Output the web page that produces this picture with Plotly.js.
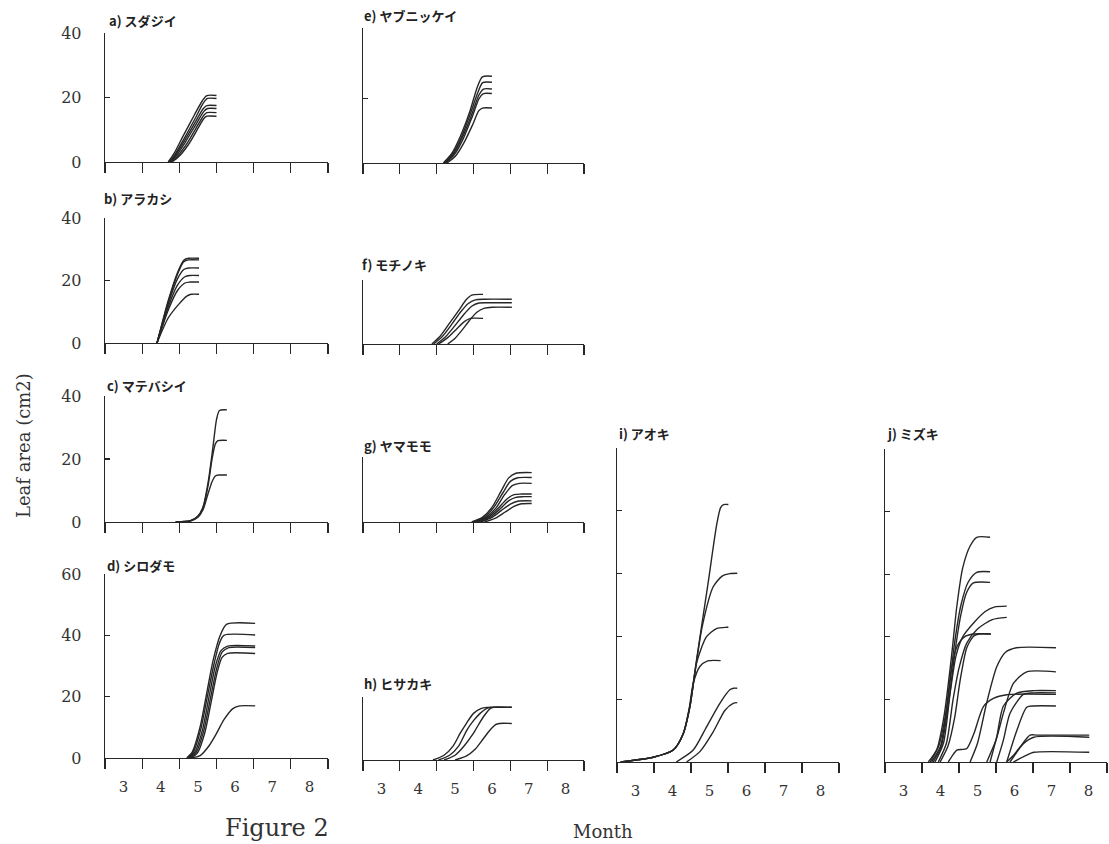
<!DOCTYPE html>
<html>
<head>
<meta charset="utf-8">
<script src="https://cdn.plot.ly/plotly-3.0.1.min.js"></script>
<style>
  html, body { margin: 0; padding: 0; background: #ffffff; }
  #chart { width: 1109px; height: 844px; }
</style>
</head>
<body>
<div id="chart"></div>
<script>
// ---------------- DATA (month, leaf area cm2) ----------------
const monthTicks = [3, 4, 5, 6, 7, 8, 9];
const monthLabelPos = [3.5, 4.5, 5.5, 6.5, 7.5, 8.5];
const monthLabels = ['3', '4', '5', '6', '7', '8'];

// a) スダジイ
const aX = [
  [4.70, 4.85, 5.10, 5.40, 5.62, 5.74, 6.00],
  [4.72, 4.88, 5.14, 5.44, 5.64, 5.76, 6.00],
  [4.74, 4.90, 5.16, 5.46, 5.64, 5.74, 6.00],
  [4.76, 4.92, 5.18, 5.48, 5.66, 5.76, 6.00],
  [4.78, 4.95, 5.22, 5.50, 5.66, 5.74, 6.00],
  [4.80, 4.98, 5.25, 5.52, 5.66, 5.74, 6.00]
];
const aY = [
  [0, 2.5, 8.0, 14.5, 19.0, 20.6, 20.6],
  [0, 2.3, 7.5, 13.8, 18.2, 19.7, 19.7],
  [0, 2.2, 7.0, 13.0, 16.5, 17.5, 17.5],
  [0, 2.0, 6.5, 12.3, 15.7, 16.6, 16.6],
  [0, 1.8, 6.0, 11.5, 14.5, 15.3, 15.3],
  [0, 1.6, 5.5, 10.8, 13.5, 14.2, 14.2]
];

// b) アラカシ
const bX = [
  [4.40, 4.70, 4.95, 5.12, 5.25, 5.53],
  [4.40, 4.70, 4.95, 5.12, 5.25, 5.53],
  [4.40, 4.70, 4.95, 5.12, 5.25, 5.53],
  [4.40, 4.70, 4.95, 5.15, 5.28, 5.53],
  [4.40, 4.70, 4.95, 5.15, 5.28, 5.53],
  [4.40, 4.70, 5.00, 5.20, 5.32, 5.53]
];
const bY = [
  [0, 13.5, 22.5, 26.5, 27.1, 27.1],
  [0, 13.0, 22.0, 26.0, 26.6, 26.6],
  [0, 12.5, 20.5, 23.5, 24.0, 24.0],
  [0, 11.5, 18.5, 21.2, 21.6, 21.6],
  [0, 10.5, 16.8, 19.2, 19.5, 19.5],
  [0, 8.0, 12.6, 15.0, 15.6, 15.6]
];

// c) マテバシイ
const cX = [
  [4.90, 5.30, 5.50, 5.64, 5.78, 5.91, 6.00, 6.08, 6.28],
  [4.90, 5.30, 5.50, 5.64, 5.78, 5.88, 5.97, 6.04, 6.28],
  [4.90, 5.30, 5.50, 5.64, 5.76, 5.88, 5.97, 6.06, 6.28]
];
const cY = [
  [0, 0.4, 1.8, 4.9, 13.0, 24.3, 32.5, 35.4, 35.6],
  [0, 0.4, 1.8, 4.6, 12.0, 20.0, 24.8, 25.8, 25.9],
  [0, 0.3, 1.5, 4.0, 8.5, 12.8, 14.6, 14.9, 14.9]
];

// d) シロダモ
const dX = [
  [5.20, 5.35, 5.56, 5.75, 5.91, 6.10, 6.27, 7.04],
  [5.22, 5.38, 5.58, 5.77, 5.93, 6.08, 6.20, 7.04],
  [5.25, 5.42, 5.62, 5.80, 5.97, 6.12, 6.30, 7.04],
  [5.28, 5.45, 5.65, 5.83, 6.00, 6.15, 6.33, 7.04],
  [5.30, 5.48, 5.68, 5.86, 6.02, 6.15, 6.30, 7.04],
  [5.30, 5.56, 5.80, 6.00, 6.20, 6.45, 6.63, 7.04]
];
const dY = [
  [0, 2.0, 10.2, 22.0, 31.9, 40.0, 43.6, 43.9],
  [0, 2.0, 9.5, 21.0, 30.5, 37.5, 40.0, 40.1],
  [0, 2.0, 9.0, 20.0, 30.0, 35.0, 36.5, 36.5],
  [0, 1.8, 8.5, 19.0, 29.0, 34.5, 36.0, 36.0],
  [0, 1.5, 8.0, 18.5, 28.0, 32.8, 34.1, 34.1],
  [0, 0.8, 4.0, 8.0, 12.5, 16.2, 17.0, 17.0]
];

// e) ヤブニッケイ
const eX = [
  [5.18, 5.40, 5.65, 5.90, 6.10, 6.24, 6.50],
  [5.20, 5.42, 5.67, 5.92, 6.12, 6.25, 6.50],
  [5.22, 5.44, 5.70, 5.95, 6.14, 6.27, 6.50],
  [5.24, 5.46, 5.72, 5.97, 6.15, 6.27, 6.50],
  [5.28, 5.50, 5.75, 5.98, 6.14, 6.24, 6.50]
];
const eY = [
  [0, 2.8, 8.5, 16.0, 23.5, 26.8, 27.0],
  [0, 2.6, 8.0, 15.5, 22.0, 25.0, 25.1],
  [0, 2.5, 8.0, 15.0, 21.0, 23.0, 23.0],
  [0, 2.3, 7.5, 14.5, 20.0, 21.6, 21.6],
  [0, 2.0, 6.5, 12.0, 16.2, 17.1, 17.1]
];

// f) モチノキ
const fX = [
  [4.87, 5.10, 5.35, 5.60, 5.80, 5.95, 6.26],
  [4.92, 5.15, 5.40, 5.65, 5.85, 6.05, 6.30, 7.04],
  [5.00, 5.22, 5.48, 5.72, 5.95, 6.15, 6.40, 7.04],
  [5.30, 5.50, 5.70, 5.90, 6.10, 6.30, 6.50, 7.04],
  [5.05, 5.30, 5.55, 5.75, 5.92, 6.26]
];
const fY = [
  [0, 2.5, 6.5, 10.5, 13.8, 15.3, 15.5],
  [0, 2.3, 6.0, 10.0, 12.6, 13.8, 14.0, 14.0],
  [0, 2.0, 5.5, 9.0, 11.8, 12.8, 12.9, 12.9],
  [0, 1.8, 4.5, 7.5, 10.0, 11.2, 11.5, 11.5],
  [0, 2.0, 4.8, 7.0, 8.0, 8.0]
];

// g) ヤマモモ
const gX = [
  [5.95, 6.25, 6.50, 6.75, 6.95, 7.15, 7.58],
  [6.00, 6.30, 6.55, 6.80, 7.00, 7.20, 7.58],
  [6.05, 6.35, 6.60, 6.85, 7.05, 7.25, 7.58],
  [6.10, 6.40, 6.65, 6.90, 7.10, 7.30, 7.58],
  [6.15, 6.45, 6.70, 6.95, 7.15, 7.35, 7.58],
  [6.20, 6.50, 6.75, 7.00, 7.20, 7.58],
  [6.30, 6.60, 6.85, 7.10, 7.30, 7.58]
];
const gY = [
  [0, 1.5, 4.5, 9.5, 13.5, 15.0, 15.2],
  [0, 1.5, 4.5, 9.0, 12.5, 13.6, 13.7],
  [0, 1.5, 4.2, 8.5, 11.2, 11.9, 11.9],
  [0, 1.5, 4.0, 7.0, 8.4, 8.6, 8.6],
  [0, 1.5, 3.8, 6.5, 7.6, 7.8, 7.8],
  [0, 1.4, 3.5, 5.5, 6.4, 6.5],
  [0, 1.2, 3.0, 4.8, 5.6, 5.7]
];

// h) ヒサカキ
const hX = [
  [4.90, 5.20, 5.45, 5.64, 5.80, 6.00, 6.20, 6.36, 7.04],
  [5.05, 5.35, 5.60, 5.82, 6.00, 6.18, 6.35, 6.45, 7.04],
  [5.20, 5.50, 5.75, 6.00, 6.15, 6.30, 6.45, 6.55, 7.04],
  [5.50, 5.80, 6.05, 6.25, 6.45, 6.60, 6.70, 7.04]
];
const hY = [
  [0, 1.5, 4.5, 8.5, 11.5, 14.8, 16.3, 16.7, 16.7],
  [0, 1.5, 4.5, 9.5, 12.5, 14.8, 16.3, 16.7, 16.7],
  [0, 1.5, 4.5, 8.5, 11.5, 14.2, 16.3, 16.7, 16.7],
  [0, 1.2, 3.5, 6.5, 9.5, 11.2, 11.6, 11.6]
];

// i) アオキ
const iX = [
  [3.10, 3.98, 4.52, 4.79, 4.97, 5.15, 5.45, 5.70, 5.80, 5.88, 6.01],
  [3.10, 3.98, 4.52, 4.79, 4.97, 5.15, 5.30, 5.60, 5.85, 6.05, 6.25],
  [3.10, 3.98, 4.52, 4.79, 4.97, 5.15, 5.42, 5.69, 5.96, 6.01],
  [3.10, 3.98, 4.52, 4.79, 4.95, 5.06, 5.24, 5.45, 5.80],
  [4.60, 5.06, 5.42, 5.78, 6.05, 6.15, 6.25],
  [4.88, 5.24, 5.60, 5.92, 6.14, 6.25]
];
const iY = [
  [0, 1.5, 3.8, 9.0, 17.6, 32.5, 56.0, 76.0, 81.0, 82.0, 82.0],
  [0, 1.5, 3.8, 9.0, 17.6, 32.0, 43.0, 55.8, 59.3, 60.0, 60.1],
  [0, 1.5, 3.8, 9.0, 17.6, 31.5, 39.9, 42.5, 42.9, 42.9],
  [0, 1.5, 3.8, 9.0, 17.0, 25.0, 30.4, 32.2, 32.3],
  [0, 3.8, 11.2, 18.7, 23.0, 23.5, 23.5],
  [0, 3.3, 9.6, 16.5, 18.7, 18.9]
];

// j) ミズキ
const jX = [
  [4.17, 4.40, 4.60, 4.80, 4.94, 5.10, 5.30, 5.48, 5.84],
  [4.26, 4.50, 4.70, 4.88, 5.05, 5.25, 5.48, 5.84],
  [4.30, 4.52, 4.72, 4.90, 5.05, 5.20, 5.39, 5.84],
  [4.35, 4.58, 4.76, 4.92, 5.10, 5.40, 5.70, 5.95, 6.29],
  [4.44, 4.66, 4.84, 5.00, 5.21, 5.50, 5.90, 6.29],
  [4.22, 4.45, 4.65, 4.80, 4.95, 5.15, 5.39, 5.86],
  [4.49, 4.70, 4.88, 5.03, 5.21, 5.40, 5.55, 5.86],
  [5.30, 5.50, 5.75, 6.02, 6.25, 6.55, 7.62],
  [4.71, 4.85, 4.94, 5.21, 5.40, 5.66, 5.93, 6.29, 7.62],
  [5.75, 6.00, 6.20, 6.47, 6.83, 7.62],
  [5.84, 6.02, 6.20, 6.56, 7.02, 7.62],
  [6.02, 6.20, 6.38, 6.74, 7.00, 7.62],
  [6.29, 6.56, 6.83, 7.02, 7.62],
  [6.29, 6.50, 6.65, 6.92, 7.10, 8.52],
  [6.38, 6.74, 7.02, 8.52],
  [6.47, 6.80, 7.02, 8.52]
];
const jY = [
  [0, 4.0, 15.0, 34.0, 49.6, 62.0, 69.0, 71.8, 71.8],
  [0, 5.0, 20.0, 38.0, 50.0, 57.5, 60.6, 60.8],
  [0, 5.0, 19.0, 36.0, 47.0, 54.0, 57.2, 57.4],
  [0, 6.0, 22.0, 34.0, 40.0, 44.5, 48.0, 49.5, 49.8],
  [0, 6.0, 20.0, 30.0, 38.0, 42.5, 45.5, 46.2],
  [0, 5.0, 16.0, 30.0, 37.0, 40.0, 40.9, 40.9],
  [0, 5.0, 14.0, 26.0, 36.5, 40.3, 40.9, 40.9],
  [0, 6.0, 19.0, 30.4, 35.0, 36.5, 36.5],
  [0, 2.5, 3.8, 4.3, 9.0, 17.7, 20.3, 21.5, 21.6],
  [0, 7.0, 15.6, 25.1, 28.8, 28.8],
  [0, 8.0, 17.9, 22.0, 22.8, 22.8],
  [0, 7.0, 15.6, 21.6, 22.1, 22.1],
  [0, 10.0, 17.5, 17.9, 17.9],
  [0, 2.5, 4.8, 8.6, 8.6, 8.6],
  [0, 5.8, 7.9, 7.9],
  [0, 2.0, 3.1, 3.1]
];

// ---------------- LAYOUT CONFIG ----------------
const W = 1109, H = 844;
const colPx = [[105, 328], [363, 584], [617, 839], [885, 1107]];

const panels = [
  {xs: aX, ys: aY, col: 0, py: [33, 162],  range: [0, 40],  yt: [0, 20, 40], ylab: true,  xlab: false, title: 'a) スダジイ',   tp: [107, 21]},
  {xs: bX, ys: bY, col: 0, py: [218, 343], range: [0, 40],  yt: [0, 20, 40], ylab: true,  xlab: false, title: 'b) アラカシ',   tp: [102, 198]},
  {xs: cX, ys: cY, col: 0, py: [396, 522], range: [0, 40],  yt: [0, 20, 40], ylab: true,  xlab: false, title: 'c) マテバシイ', tp: [105, 385]},
  {xs: dX, ys: dY, col: 0, py: [574, 758], range: [0, 60],  yt: [0, 20, 40, 60], ylab: true, xlab: true, title: 'd) シロダモ', tp: [105, 565]},
  {xs: eX, ys: eY, col: 1, py: [28, 163],  range: [0, 42],  yt: [20, 42], ylab: false, xlab: false, title: 'e) ヤブニッケイ', tp: [362, 15]},
  {xs: fX, ys: fY, col: 1, py: [280, 344], range: [0, 20],  yt: [20], ylab: false, xlab: false, title: 'f) モチノキ',   tp: [360, 265]},
  {xs: gX, ys: gY, col: 1, py: [457, 522], range: [0, 20],  yt: [20], ylab: false, xlab: false, title: 'g) ヤマモモ',   tp: [362, 445]},
  {xs: hX, ys: hY, col: 1, py: [697, 760], range: [0, 20],  yt: [20], ylab: false, xlab: true,  title: 'h) ヒサカキ',   tp: [362, 683]},
  {xs: iX, ys: iY, col: 2, py: [448, 762], range: [0, 100], yt: [20, 40, 60, 80, 100], ylab: false, xlab: true, title: 'i) アオキ', tp: [617, 433]},
  {xs: jX, ys: jY, col: 3, py: [449, 762], range: [0, 100], yt: [20, 40, 60, 80, 100], ylab: false, xlab: true, title: 'j) ミズキ', tp: [885, 433]}
];

const ink = '#262626';
const serif = 'DejaVu Serif, Liberation Serif, serif';
const traces = [];
const layout = {
  width: W, height: H,
  margin: {l: 0, r: 0, t: 0, b: 0},
  paper_bgcolor: '#ffffff',
  plot_bgcolor: 'rgba(0,0,0,0)',
  showlegend: false,
  annotations: []
};

panels.forEach((p, k) => {
  const n = k + 1;
  const xn = n === 1 ? 'x' : 'x' + n;
  const yn = n === 1 ? 'y' : 'y' + n;
  const xa = n === 1 ? 'xaxis' : 'xaxis' + n;
  const ya = n === 1 ? 'yaxis' : 'yaxis' + n;
  const cp = colPx[p.col];

  p.xs.forEach((xv, i) => {
    traces.push({
      type: 'scatter', mode: 'lines',
      x: xv, y: p.ys[i],
      xaxis: xn, yaxis: yn,
      line: {color: ink, width: 1.4, shape: 'spline', smoothing: 0.7},
      hoverinfo: 'skip', showlegend: false
    });
  });

  layout[xa] = {
    domain: [cp[0] / W, cp[1] / W],
    anchor: yn,
    range: [3, 9],
    showline: true, linecolor: ink, linewidth: 1.3,
    showgrid: false, zeroline: false,
    tickmode: 'array',
    tickvals: monthLabelPos,
    ticktext: p.xlab ? monthLabels : monthLabels.map(() => ''),
    ticks: '',
    showticklabels: p.xlab,
    ticklabelstandoff: 15,
    tickfont: {family: serif, size: 15, color: '#333'},
    minor: {tickmode: 'array', tickvals: monthTicks, ticks: 'outside', ticklen: 10, tickwidth: 1.3, tickcolor: ink, showgrid: false},
    fixedrange: true
  };
  layout[ya] = {
    domain: [1 - p.py[1] / H, 1 - p.py[0] / H],
    anchor: xn,
    range: p.range,
    showline: true, linecolor: ink, linewidth: 1.3,
    showgrid: false, zeroline: false,
    tickmode: 'array',
    tickvals: p.yt,
    ticks: 'inside', ticklen: 5, tickwidth: 1.3, tickcolor: ink,
    showticklabels: p.ylab,
    ticklabelstandoff: 19,
    tickfont: {family: serif, size: 16, color: '#333'},
    fixedrange: true
  };

  layout.annotations.push({
    text: '<b>' + p.title + '</b>',
    xref: 'paper', yref: 'paper',
    x: p.tp[0] / W, y: 1 - p.tp[1] / H,
    xanchor: 'left', yanchor: 'middle',
    showarrow: false,
    font: {family: 'Noto Sans CJK JP, Noto Sans, sans-serif', size: 13, color: '#222'}
  });
});

layout.annotations.push({
  text: 'Leaf area (cm2)', textangle: -90,
  xref: 'paper', yref: 'paper', x: 24 / W, y: 1 - 446 / H,
  xanchor: 'center', yanchor: 'middle', showarrow: false,
  font: {family: serif, size: 18, color: '#333'}
});
layout.annotations.push({
  text: 'Month',
  xref: 'paper', yref: 'paper', x: 603 / W, y: 1 - 831 / H,
  xanchor: 'center', yanchor: 'middle', showarrow: false,
  font: {family: serif, size: 18, color: '#333'}
});
layout.annotations.push({
  text: 'Figure 2',
  xref: 'paper', yref: 'paper', x: 277 / W, y: 1 - 828 / H,
  xanchor: 'center', yanchor: 'middle', showarrow: false,
  font: {family: serif, size: 24, color: '#333'}
});

Plotly.newPlot('chart', traces, layout, {staticPlot: true, displayModeBar: false});
</script>
</body>
</html>
